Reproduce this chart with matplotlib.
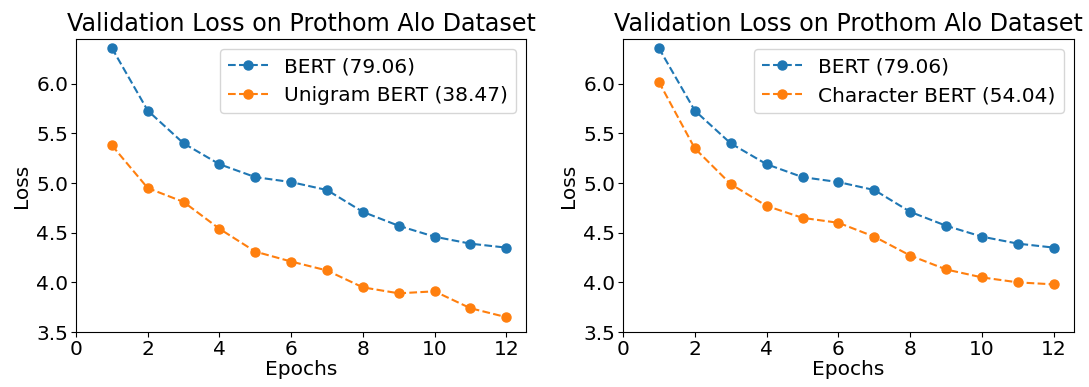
import matplotlib
matplotlib.use("Agg")
import matplotlib.pyplot as plt

epochs = list(range(1, 13))
bert = [6.36, 5.73, 5.40, 5.19, 5.06, 5.01, 4.93, 4.71, 4.57, 4.46, 4.39, 4.35]
unigram = [5.38, 4.95, 4.81, 4.54, 4.31, 4.21, 4.12, 3.95, 3.89, 3.91, 3.74, 3.65]
character = [6.02, 5.35, 4.99, 4.77, 4.65, 4.60, 4.46, 4.27, 4.13, 4.05, 4.00, 3.98]

labels_left = ["BERT (79.06)", "Unigram BERT (38.47)"]
labels_right = ["BERT (79.06)", "Character BERT (54.04)"]
title = "Validation Loss on Prothom Alo Dataset"

fig = plt.figure(figsize=(10.89, 3.87), dpi=100)
ax1 = fig.add_axes([0.0698, 0.142, 0.4132, 0.757])
ax2 = fig.add_axes([0.572, 0.142, 0.414, 0.757])

for ax, other, labs in [(ax1, unigram, labels_left), (ax2, character, labels_right)]:
    ax.plot(epochs, bert, 'o--', color='#1f77b4', label=labs[0], markersize=6.5)
    ax.plot(epochs, other, 'o--', color='#ff7f0e', label=labs[1], markersize=6.5)
    ax.set_title(title, fontsize=17.2)
    ax.set_xlabel("Epochs", fontsize=14.5, labelpad=1)
    ax.set_ylabel("Loss", fontsize=14.5)
    ax.set_xlim(0, 12.55)
    ax.set_ylim(3.5, 6.45)
    ax.set_xticks([0, 2, 4, 6, 8, 10, 12])
    ax.set_yticks([3.5, 4.0, 4.5, 5.0, 5.5, 6.0])
    ax.tick_params(labelsize=14.5, pad=2)
    ax.legend(fontsize=14.5, loc='upper right')

fig.savefig("out.png", dpi=100)
